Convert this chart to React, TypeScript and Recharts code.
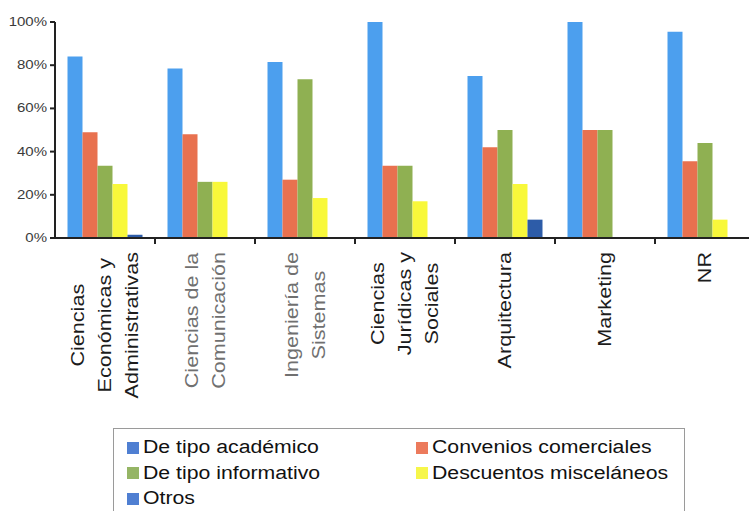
import { BarChart, Bar, XAxis, YAxis, Legend } from 'recharts'

const categories = [
  'Ciencias\nEconómicas y\nAdministrativas',
  'Ciencias de la\nComunicación',
  'Ingeniería de\nSistemas',
  'Ciencias\nJurídicas y\nSociales',
  'Arquitectura',
  'Marketing',
  'NR',
]
const academico = [84, 78.5, 81.5, 100, 75, 100, 95.5]
const convenios = [49, 48, 27, 33.5, 42, 50, 35.5]
const informativo = [33.5, 26, 73.5, 33.5, 50, 50, 44]
const descuentos = [25, 26, 18.5, 17, 25, 0, 8.5]
const otros = [1.5, 0, 0, 0, 8.5, 0, 0]
const yTicks = [0, 20, 40, 60, 80, 100]

const series = [
  { key: 'academico', name: 'De tipo académico', color: '#4c9fee', legend: '#4f7fd2' },
  { key: 'convenios', name: 'Convenios comerciales', color: '#e8714f', legend: '#ec7a5c' },
  { key: 'informativo', name: 'De tipo informativo', color: '#8fb052', legend: '#95b565' },
  { key: 'descuentos', name: 'Descuentos misceláneos', color: '#f8f83a', legend: '#f6f64a' },
  { key: 'otros', name: 'Otros', color: '#2d5ca8', legend: '#4f7fd2' },
]

const data = categories.map((cat, i) => ({
  cat,
  academico: academico[i],
  convenios: convenios[i],
  informativo: informativo[i],
  descuentos: descuentos[i],
  otros: otros[i],
}))

const FONT = '"Liberation Sans", Arial, sans-serif'
const CHART_W = 760
const CHART_H = 511
const Y_W = 55
const MARGIN = { top: 22, right: 5, left: 0, bottom: 0 }
const HALF_BAND = (CHART_W - Y_W - MARGIN.left - MARGIN.right) / categories.length / 2
const MUTED = [1, 2]

let ctx: CanvasRenderingContext2D | null = null
function measure(s: string, size: number) {
  if (!ctx) ctx = document.createElement('canvas').getContext('2d')
  if (!ctx) return s.length * size * 0.5
  ctx.font = `${size}px "Liberation Sans", Arial, sans-serif`
  return ctx.measureText(s).width
}

function XTick(props: any) {
  const { x, y, payload, index } = props
  const lines = String(payload.value).split('\n')
  const size = 18
  const stretch = 1.2
  const block = Math.max(...lines.map(l => measure(l, size))) * stretch
  const top = y + 6
  const cy = top + block / 2
  const n = lines.length
  const fill = MUTED.includes(index) ? '#707070' : '#1c1c1c'
  return (
    <g>
      {index > 0 && (
        <line x1={x - HALF_BAND} x2={x - HALF_BAND} y1={y - 8} y2={y - 2} stroke="#222" strokeWidth={2} />
      )}
      {lines.map((l, i) => (
        <text
          key={i}
          transform={`translate(${x + (i - (n - 1) / 2) * 27}, ${cy}) rotate(-90) scale(${stretch},1)`}
          textAnchor="middle"
          dominantBaseline="central"
          fontSize={size}
          fontFamily={FONT}
          fill={fill}
        >
          {l}
        </text>
      ))}
    </g>
  )
}

function YTick(props: any) {
  const { x, y, payload } = props
  return (
    <text
      transform={`translate(${x - 1}, ${y}) scale(1.25,1)`}
      textAnchor="end"
      dominantBaseline="central"
      fontSize={12}
      fontFamily={FONT}
      fill="#3a3a3a"
    >
      {payload.value}%
    </text>
  )
}

function LegendBox() {
  return (
    <div
      style={{
        width: 572,
        height: 90,
        boxSizing: 'border-box',
        border: '1px solid #9a9a9a',
        padding: '6px 0 0 13px',
        display: 'grid',
        gridTemplateColumns: '289px 270px',
        gridAutoRows: 25.5,
        fontFamily: FONT,
        fontSize: 18,
        color: '#111',
      }}
    >
      {series.map(s => (
        <div key={s.key} style={{ display: 'flex', alignItems: 'center', whiteSpace: 'nowrap' }}>
          <span style={{ width: 12, height: 12, background: s.legend, marginRight: 4, flex: 'none' }} />
          <span style={{ display: 'inline-block', transform: 'scaleX(1.18)', transformOrigin: 'left center' }}>{s.name}</span>
        </div>
      ))}
    </div>
  )
}

export default function App() {
  return (
    <div style={{ position: 'absolute', left: 0, top: 0, width: 749, height: 511, overflow: 'hidden', background: '#fff' }}>
      <BarChart width={CHART_W} height={CHART_H} data={data} margin={MARGIN} barCategoryGap="12.5%" barGap={0}>
        <XAxis
          dataKey="cat"
          interval={0}
          height={183}
          tick={<XTick />}
          tickLine={false}
          axisLine={{ stroke: '#222', strokeWidth: 2 }}
        />
        <YAxis
          width={Y_W}
          domain={[0, 100]}
          ticks={yTicks}
          tick={<YTick />}
          tickSize={5}
          tickLine={{ stroke: '#222', strokeWidth: 2 }}
          axisLine={{ stroke: '#222', strokeWidth: 2 }}
        />
        <Legend content={<LegendBox />} wrapperStyle={{ left: 113, top: 428, width: 572 }} />
        {series.map(s => (
          <Bar key={s.key} dataKey={s.key} name={s.name} fill={s.color} isAnimationActive={false} />
        ))}
      </BarChart>
    </div>
  )
}
